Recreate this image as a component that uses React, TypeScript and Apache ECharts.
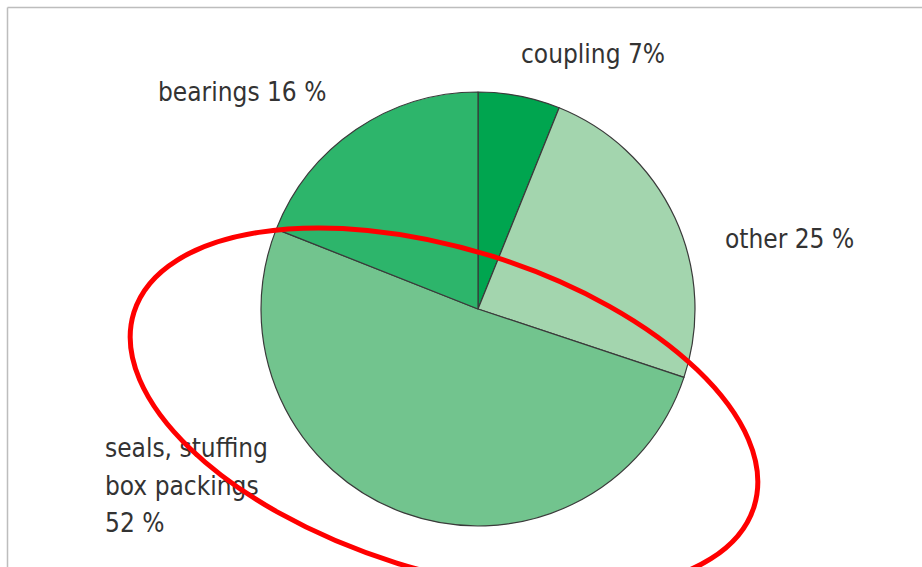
import React, { useEffect, useRef } from "react";
import * as echarts from "echarts";

// Slice names, clockwise from 12 o'clock
const categories = ["coupling", "other", "seals, stuffing box packings", "bearings"];
// Percentages printed in the labels
const labelPercents = [7, 25, 52, 16];
// Angular shares of the drawn slices (in %)
const sliceShares = [6.1, 24.0, 50.9, 19.0];
// Label texts as printed
const labelTexts = [
  `coupling ${labelPercents[0]}%`,
  `other ${labelPercents[1]} %`,
  `seals, stuffing\nbox packings\n${labelPercents[2]} %`,
  `bearings ${labelPercents[3]} %`,
];

const sliceColors = ["#00a54f", "#a3d5ae", "#72c48e", "#2db56b"];
const labelPos = [
  { x: 521, y: 54, va: "middle" },
  { x: 725, y: 239, va: "middle" },
  { x: 105, y: 429.5, va: "top" },
  { x: 158, y: 91.5, va: "middle" },
];

export default function App() {
  const ref = useRef<HTMLDivElement>(null);
  useEffect(() => {
    document.body.style.margin = "0";
    if (!ref.current) return;
    const chart = echarts.init(ref.current, undefined, { renderer: "svg" });
    const font = '26px "DejaVu Sans Condensed", "DejaVu Sans", sans-serif';
    chart.setOption({
      animation: false,
      backgroundColor: "#ffffff",
      series: [
        {
          type: "pie",
          center: [478, 309],
          radius: 217,
          startAngle: 90,
          clockwise: true,
          silent: true,
          label: { show: false },
          labelLine: { show: false },
          itemStyle: { borderColor: "#3a3a3a", borderWidth: 1.2 },
          data: categories.map((name, i) => ({
            name,
            value: sliceShares[i],
            itemStyle: { color: sliceColors[i] },
          })),
        },
      ],
      graphic: [
        {
          type: "line",
          shape: { x1: 7.5, y1: 7.5, x2: 922, y2: 7.5 },
          style: { stroke: "#bdbdbd", lineWidth: 1.5 },
          z: 5,
        },
        {
          type: "line",
          shape: { x1: 7.5, y1: 7.5, x2: 7.5, y2: 567 },
          style: { stroke: "#bdbdbd", lineWidth: 1.5 },
          z: 5,
        },
        ...labelTexts.map((t, i) => ({
          type: "text",
          x: labelPos[i].x,
          y: labelPos[i].y,
          z: 10,
          style: {
            text: t,
            font,
            fill: "#333333",
            lineHeight: 37.5,
            textAlign: "left",
            textVerticalAlign: labelPos[i].va,
            align: "left",
            verticalAlign: labelPos[i].va,
          },
        })),
        {
          type: "group",
          x: 444,
          y: 409.5,
          rotation: (-17.4 * Math.PI) / 180,
          z: 20,
          children: [
            {
              type: "ellipse",
              z: 20,
              shape: { cx: 0, cy: 0, rx: 325, ry: 160.7 },
              style: { fill: "none", stroke: "#ff0000", lineWidth: 5 },
            },
          ],
        },
      ],
    });
    return () => chart.dispose();
  }, []);
  return <div ref={ref} style={{ width: 922, height: 567 }} />;
}
